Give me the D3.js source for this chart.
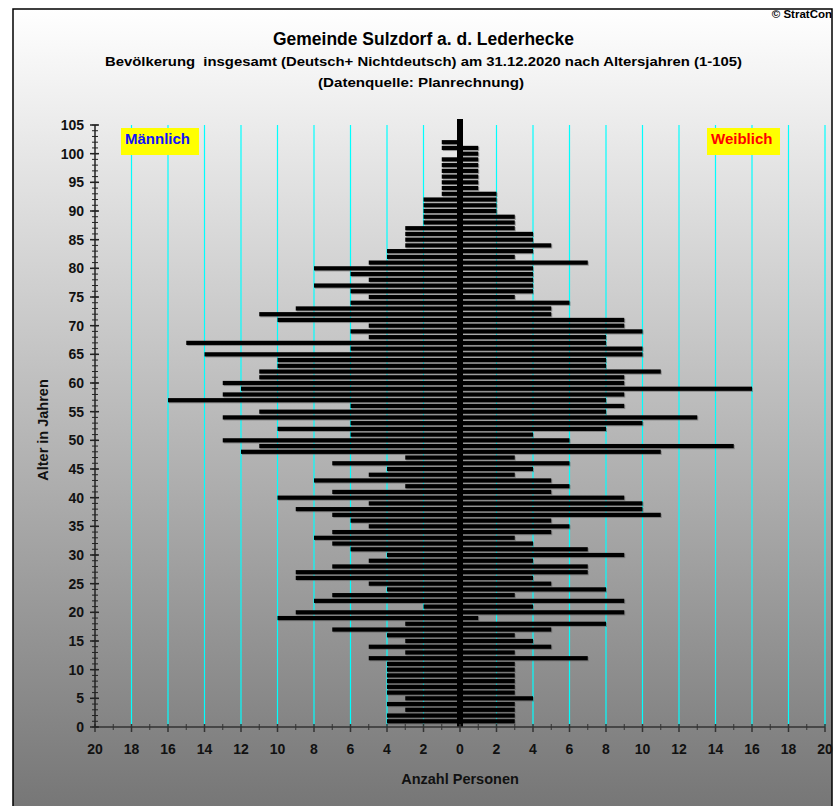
<!DOCTYPE html>
<html>
<head>
<meta charset="utf-8">
<script src="https://cdn.jsdelivr.net/npm/d3@7"></script>
<style>
  body { margin: 0; background: #fff; }
  svg text { font-family: "Liberation Sans", Arial, sans-serif; font-weight: bold; }
</style>
</head>
<body>
<div id="chart"></div>
<script>
// Altersjahre 1..105
const ages = d3.range(1, 106);

// Männlich, Alter 1..105
const male = [
  4, 4, 3, 4, 3, 4, 4, 4, 4, 4,
  4, 5, 3, 5, 3, 4, 7, 3, 10, 9,
  2, 8, 7, 4, 5, 9, 9, 7, 5, 4,
  6, 7, 8, 7, 5, 6, 7, 9, 5, 10,
  7, 3, 8, 5, 4, 7, 3, 12, 11, 13,
  6, 10, 6, 13, 11, 6, 16, 13, 12, 13,
  11, 11, 10, 10, 14, 6, 15, 5, 6, 5,
  10, 11, 9, 6, 5, 6, 8, 5, 6, 8,
  5, 4, 4, 3, 3, 3, 3, 2, 2, 2,
  2, 2, 1, 1, 1, 1, 1, 1, 1, 0,
  1, 1, 0, 0, 0
];

// Weiblich, Alter 1..105
const female = [
  3, 3, 3, 3, 4, 3, 3, 3, 3, 3,
  3, 7, 3, 5, 4, 3, 5, 8, 1, 9,
  4, 9, 3, 8, 5, 4, 7, 7, 4, 9,
  7, 4, 3, 5, 6, 5, 11, 10, 10, 9,
  5, 6, 5, 3, 4, 6, 3, 11, 15, 6,
  4, 8, 10, 13, 8, 9, 8, 9, 16, 9,
  9, 11, 8, 8, 10, 10, 8, 8, 10, 9,
  9, 5, 5, 6, 3, 4, 4, 4, 4, 4,
  7, 3, 4, 5, 4, 4, 3, 3, 3, 2,
  2, 2, 2, 1, 1, 1, 1, 1, 1, 1,
  1, 0, 0, 0, 0
];

const xTicks = d3.range(-20, 21, 2);
const yTicks = d3.range(0, 106, 5);

const W = 836, H = 806;
const svg = d3.select("#chart").append("svg")
  .attr("width", W).attr("height", H);

// background gradient
const defs = svg.append("defs");
const grad = defs.append("linearGradient")
  .attr("id", "bg").attr("x1", 0).attr("y1", 0).attr("x2", 0).attr("y2", 1);
grad.append("stop").attr("offset", "0%").attr("stop-color", "#ffffff");
grad.append("stop").attr("offset", "100%").attr("stop-color", "#767676");

defs.append("clipPath").attr("id", "frameClip")
  .append("rect").attr("x", 13).attr("y", 9).attr("width", 819).attr("height", 800);

svg.append("rect")
  .attr("x", 13).attr("y", 9).attr("width", 819).attr("height", 800)
  .attr("fill", "url(#bg)")
  .attr("stroke", "#000").attr("stroke-width", 1.5);

// scales
const x = d3.scaleLinear().domain([-20, 20]).range([95, 825]);
const y = d3.scaleLinear().domain([0, 105]).range([727, 125]);

// titles
svg.append("text")
  .attr("x", 832).attr("y", 18).attr("text-anchor", "end")
  .attr("clip-path", "url(#frameClip)")
  .attr("font-size", 11.5).text("© StratCon");

svg.append("text")
  .attr("x", 423.5).attr("y", 45).attr("text-anchor", "middle")
  .attr("font-size", 17.5).attr("textLength", 301).attr("lengthAdjust", "spacingAndGlyphs")
  .text("Gemeinde Sulzdorf a. d. Lederhecke");

svg.append("text")
  .attr("x", 423.5).attr("y", 66).attr("text-anchor", "middle")
  .attr("font-size", 13).attr("textLength", 637).attr("lengthAdjust", "spacingAndGlyphs")
  .style("white-space", "pre")
  .text("Bevölkerung  insgesamt (Deutsch+ Nichtdeutsch) am 31.12.2020 nach Altersjahren (1-105)");

svg.append("text")
  .attr("x", 421).attr("y", 87).attr("text-anchor", "middle")
  .attr("font-size", 13).attr("textLength", 206).attr("lengthAdjust", "spacingAndGlyphs")
  .text("(Datenquelle: Planrechnung)");

// cyan gridlines
svg.append("g").selectAll("line")
  .data(xTicks.filter(d => d !== 0 && d !== -20))
  .join("line")
  .attr("x1", d => x(d)).attr("x2", d => x(d))
  .attr("y1", y(105)).attr("y2", y(0))
  .attr("stroke", "#00ffff").attr("stroke-width", 1.2);

// legend boxes
const legend = [
  { label: "Männlich", x: 121, w: 78, color: "#1010ff" },
  { label: "Weiblich", x: 707, w: 73, color: "#ff0000" }
];
legend.forEach(l => {
  svg.append("rect").attr("x", l.x).attr("y", 128).attr("width", l.w).attr("height", 27)
    .attr("fill", "#ffff00");
  svg.append("text").attr("x", l.x + 4).attr("y", 144)
    .attr("font-size", 15).attr("fill", l.color).text(l.label);
});

// bars
const bh = 4.2;
const rows = ages.map((a, i) => ({ age: a, m: male[i], f: female[i] }));
const barG = svg.append("g");

// shadows
barG.selectAll("rect.ms").data(rows.filter(d => d.m > 0)).join("rect")
  .attr("x", d => x(-d.m) + 1).attr("y", d => y(d.age) - bh / 2 + 1)
  .attr("width", d => x(0) - x(-d.m)).attr("height", bh)
  .attr("fill", "#555").attr("opacity", 0.5);
barG.selectAll("rect.fs").data(rows.filter(d => d.f > 0)).join("rect")
  .attr("x", x(0) + 1).attr("y", d => y(d.age) - bh / 2 + 1)
  .attr("width", d => x(d.f) - x(0)).attr("height", bh)
  .attr("fill", "#555").attr("opacity", 0.5);

barG.selectAll("rect.m").data(rows.filter(d => d.m > 0)).join("rect")
  .attr("x", d => x(-d.m)).attr("y", d => y(d.age) - bh / 2)
  .attr("width", d => x(0) - x(-d.m)).attr("height", bh)
  .attr("fill", "#000");
barG.selectAll("rect.f").data(rows.filter(d => d.f > 0)).join("rect")
  .attr("x", x(0)).attr("y", d => y(d.age) - bh / 2)
  .attr("width", d => x(d.f) - x(0)).attr("height", bh)
  .attr("fill", "#000");

// thick centre line
svg.append("rect")
  .attr("x", x(0) - 3).attr("y", 119).attr("width", 6).attr("height", y(0) - 119)
  .attr("fill", "#000");

// x axis
const xAxis = svg.append("g");
xAxis.append("line").attr("x1", x(-20)).attr("x2", x(20)).attr("y1", y(0)).attr("y2", y(0))
  .attr("stroke", "#333").attr("stroke-width", 1.5);
xAxis.selectAll("line.minor").data(d3.range(-19, 20, 2)).join("line")
  .attr("x1", d => x(d)).attr("x2", d => x(d))
  .attr("y1", y(0) - 3).attr("y2", y(0) + 3)
  .attr("stroke", "#333").attr("stroke-width", 1);
xAxis.selectAll("line.major").data(xTicks).join("line")
  .attr("x1", d => x(d)).attr("x2", d => x(d))
  .attr("y1", y(0) - 3).attr("y2", y(0) + 5)
  .attr("stroke", "#333").attr("stroke-width", 1.5);
xAxis.selectAll("text").data(xTicks).join("text")
  .attr("x", d => x(d)).attr("y", 754).attr("text-anchor", "middle")
  .attr("font-size", 14).attr("fill", "#111")
  .text(d => Math.abs(d));

svg.append("text").attr("x", x(0)).attr("y", 784).attr("text-anchor", "middle")
  .attr("font-size", 14.5).attr("fill", "#111").text("Anzahl Personen");

// y axis
const yAxis = svg.append("g");
yAxis.append("line").attr("x1", x(-20)).attr("x2", x(-20)).attr("y1", y(105)).attr("y2", y(0))
  .attr("stroke", "#222").attr("stroke-width", 1.5);
yAxis.selectAll("line.minor").data(d3.range(0, 106)).join("line")
  .attr("x1", x(-20) - 3).attr("x2", x(-20) + 3)
  .attr("y1", d => y(d)).attr("y2", d => y(d))
  .attr("stroke", "#222").attr("stroke-width", 1);
yAxis.selectAll("line.major").data(yTicks).join("line")
  .attr("x1", x(-20) - 5).attr("x2", x(-20) + 4)
  .attr("y1", d => y(d)).attr("y2", d => y(d))
  .attr("stroke", "#222").attr("stroke-width", 1.5);
yAxis.selectAll("text").data(yTicks).join("text")
  .attr("x", 84).attr("y", d => y(d)).attr("dy", "0.36em").attr("text-anchor", "end")
  .attr("font-size", 14).attr("fill", "#111")
  .text(d => d);

svg.append("text")
  .attr("transform", "translate(48,430) rotate(-90)")
  .attr("text-anchor", "middle").attr("font-size", 14.5).attr("fill", "#111")
  .text("Alter in Jahren");
</script>
</body>
</html>
